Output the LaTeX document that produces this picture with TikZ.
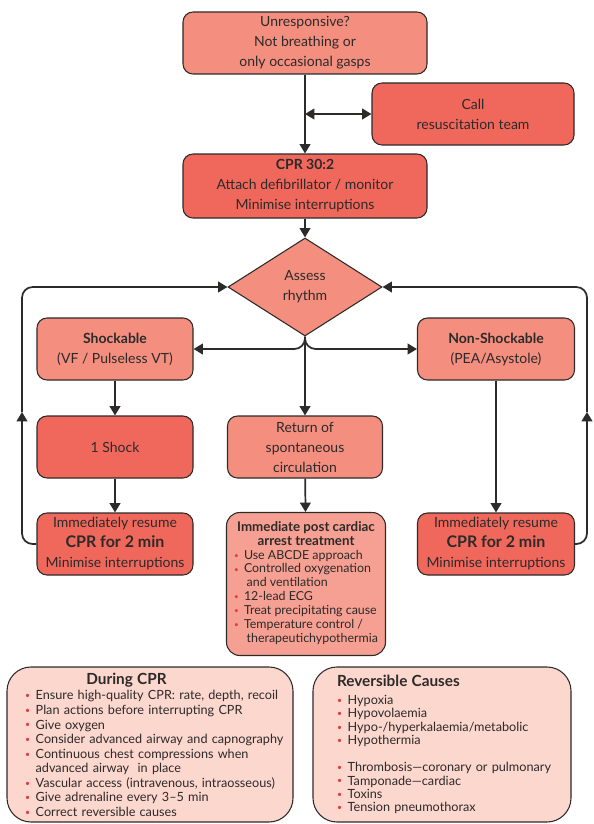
\documentclass[tikz,border=0pt]{standalone}
\usepackage{fontspec}
\setmainfont{Lato}
\usepackage{tikz}
\usetikzlibrary{arrows.meta, positioning, shapes.geometric, calc}
\definecolor{lightred}{RGB}{244,142,126}
\definecolor{darkred}{RGB}{240,104,92}
\definecolor{postred}{RGB}{245,160,146}
\definecolor{notepink}{RGB}{252,215,206}
\definecolor{bulletred}{RGB}{228,58,58}
\definecolor{inkgray}{RGB}{45,42,42}

\newcommand{\itm}[1]{\mbox{\makebox[8pt][l]{\color{bulletred}\raisebox{0.8pt}{\fontsize{6.5}{6.5}\selectfont\textbullet}}#1}}
\newcommand{\cnt}[1]{\mbox{\hspace*{8pt}#1}}
\newcommand{\sitm}[1]{\makebox[7.5pt][l]{\color{bulletred}\raisebox{0.7pt}{\fontsize{6}{6}\selectfont\textbullet}}#1}
\newcommand{\scnt}[1]{\hspace*{9.5pt}#1}

\begin{document}
\begin{tikzpicture}[x=0.75pt, y=-0.75pt,
    box/.style={draw=inkgray, line width=0.8pt, rounded corners=7.5pt, align=center,
        text=inkgray, inner sep=2pt, font=\fontsize{10.5}{15}\selectfont},
    lightbox/.style={box, fill=lightred},
    darkbox/.style={box, fill=darkred},
    notebox/.style={draw=inkgray, line width=0.8pt, rounded corners=18pt, fill=notepink,
        text=inkgray, align=left, minimum height=116.25pt},
    decision/.style={diamond, draw=inkgray, line width=0.8pt, fill=lightred, text=inkgray,
        inner sep=0pt, minimum width=115.5pt, minimum height=73.5pt, align=center,
        font=\fontsize{10.5}{15}\selectfont},
    flow/.style={draw=inkgray, line width=1.3pt, -{Triangle[length=7pt,width=8pt]}}]
\useasboundingbox (0,0) rectangle (593,824);

% main column
\node[lightbox, minimum width=183pt, minimum height=46.5pt] (unresp) at (305,43)
    {Unresponsive?\\Not breathing or\\only occasional gasps};
\node[darkbox, minimum width=151.5pt, minimum height=46.5pt] (call) at (473,114)
    {Call\\resuscitation team};
\node[darkbox, minimum width=183pt, minimum height=48pt] (cpr) at (305,186)
    {\textbf{CPR 30:2}\\Attach defibrillator / monitor\\Minimise interruptions};
\node[decision] (assess) at (305,287) {Assess\\rhythm};

% shockable side
\node[lightbox, minimum width=117pt, minimum height=46.5pt] (shock) at (115,349)
    {\textbf{Shockable}\\(VF / Pulseless VT)};
\node[darkbox, minimum width=117pt, minimum height=46.5pt] (oneshock) at (115,447)
    {1 Shock};
\node[darkbox, minimum width=117pt, minimum height=46.5pt] (resumeL) at (115,544)
    {Immediately resume\\{\fontsize{12}{15}\selectfont\bfseries CPR for 2 min}\\Minimise interruptions};

% ROSC
\node[lightbox, minimum width=116.25pt, minimum height=46.5pt] (rosc) at (305,447)
    {Return of\\spontaneous\\circulation};
\node[box, fill=postred, rounded corners=10pt, minimum width=119.25pt, minimum height=107.25pt,
    font=\fontsize{9.3}{10.4}\selectfont] (post) at (306,584)
    {{\fontsize{10}{12}\selectfont\bfseries Immediate post cardiac}\\
     {\fontsize{10}{12}\selectfont\bfseries arrest treatment}\\[2pt]
     \begin{tabular}{@{}l@{}}
     \sitm{Use ABCDE approach}\\
     \sitm{Controlled oxygenation}\\
     \scnt{and ventilation}\\
     \sitm{12-lead ECG}\\
     \sitm{Treat precipitating cause}\\
     \sitm{Temperature control /}\\
     \scnt{therapeutichypothermia}
     \end{tabular}};

% non-shockable side
\node[lightbox, minimum width=117.75pt, minimum height=46.5pt] (nonshock) at (496,349)
    {\textbf{Non-Shockable}\\(PEA/Asystole)};
\node[darkbox, minimum width=117.75pt, minimum height=46.5pt] (resumeR) at (496,544)
    {Immediately resume\\{\fontsize{12}{15}\selectfont\bfseries CPR for 2 min}\\Minimise interruptions};

% notes
\node[notebox, minimum width=214.5pt, inner xsep=13.5pt, text width=187.5pt,
    font=\fontsize{9.5}{10.9}\selectfont] (during) at (150,744.5)
    {\hspace*{46pt}{\fontsize{11.5}{13}\selectfont\bfseries During CPR}\\[1pt]
     \itm{Ensure high-quality CPR: rate, depth, recoil}\\
     \itm{Plan actions before interrupting CPR}\\
     \itm{Give oxygen}\\
     \itm{Consider advanced airway and capnography}\\
     \itm{Continuous chest compressions when}\\
     \cnt{advanced airway\ \ in place}\\
     \itm{Vascular access (intravenous, intraosseous)}\\
     \itm{Give adrenaline every 3--5 min}\\
     \itm{Correct reversible causes}};
\node[notebox, minimum width=193.5pt, inner xsep=18pt, text width=157.5pt,
    font=\fontsize{9.5}{10.1}\selectfont] (causes) at (442,744.5)
    {{\fontsize{11.5}{13}\selectfont\bfseries Reversible Causes}\\[3.5pt]
     \itm{Hypoxia}\\
     \itm{Hypovolaemia}\\
     \itm{Hypo-/hyperkalaemia/metabolic}\\
     \itm{Hypothermia}\\[10pt]
     \itm{Thrombosis---coronary or pulmonary}\\
     \itm{Tamponade---cardiac}\\
     \itm{Toxins}\\
     \itm{Tension pneumothorax}};

% connectors
\draw[flow] (unresp) -- (cpr);
\draw[draw=inkgray, line width=1.3pt, {Triangle[length=7pt,width=8pt]}-{Triangle[length=7pt,width=8pt]}]
    (unresp.south |- call.west) -- (call.west);
\draw[flow] (cpr) -- (assess);
\draw[flow, rounded corners=8pt] (assess.south) |- (shock.east);
\draw[flow, rounded corners=8pt] (assess.south) |- (nonshock.west);
\draw[flow] (assess.south) -- (rosc);
\draw[flow] (shock) -- (oneshock);
\draw[flow] (oneshock) -- (resumeL);
\draw[flow] (rosc) -- (post);
\draw[flow] (nonshock) -- (resumeR);

% loops back to rhythm check
\coordinate (upL) at (22,412);
\coordinate (upR) at (587,412);
\draw[flow, rounded corners=8pt] (resumeL.west) -| (upL);
\draw[flow, rounded corners=8pt] (upL) |- (assess.west);
\draw[flow, rounded corners=8pt] (resumeR.east) -| (upR);
\draw[flow, rounded corners=8pt] (upR) |- (assess.east);
\end{tikzpicture}
\end{document}
